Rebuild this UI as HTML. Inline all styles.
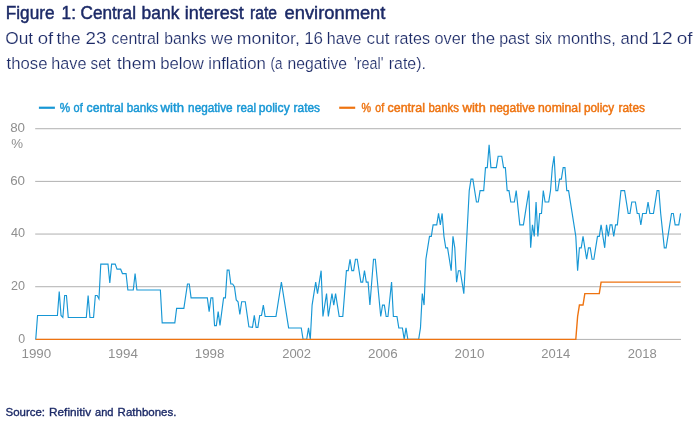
<!DOCTYPE html>
<html><head><meta charset="utf-8"><title>Figure 1</title>
<style>
html,body{margin:0;padding:0;background:#fff;}
svg{display:block;will-change:transform;opacity:0.999;font-family:"Liberation Sans",sans-serif;}
.navy{fill:#1f2d6a;}
.ax{fill:#8c8c8c;font-size:12.3px;}
</style></head><body>
<svg width="700" height="424" viewBox="0 0 700 424">
<rect width="700" height="424" fill="#fff"/>
<text y="18.70" font-size="17.6px" fill="#1c2a67" stroke="#1c2a67" stroke-width="0.45"><tspan x="5.74" textLength="48.81" lengthAdjust="spacingAndGlyphs">Figure</tspan> <tspan x="61.62" textLength="14.37" lengthAdjust="spacingAndGlyphs">1:</tspan> <tspan x="80.54" textLength="55.45" lengthAdjust="spacingAndGlyphs">Central</tspan> <tspan x="141.62" textLength="37.78" lengthAdjust="spacingAndGlyphs">bank</tspan> <tspan x="184.66" textLength="58.99" lengthAdjust="spacingAndGlyphs">interest</tspan> <tspan x="250.00" textLength="27.07" lengthAdjust="spacingAndGlyphs">rate</tspan> <tspan x="284.50" textLength="100.92" lengthAdjust="spacingAndGlyphs">environment</tspan></text>
<text y="43.70" font-size="17.4px" fill="#1c2a67" stroke="#fff" stroke-width="0.2"><tspan x="5.20" textLength="27.97" lengthAdjust="spacingAndGlyphs">Out</tspan> <tspan x="37.66" textLength="15.53" lengthAdjust="spacingAndGlyphs">of</tspan> <tspan x="56.58" textLength="23.91" lengthAdjust="spacingAndGlyphs">the</tspan> <tspan x="85.62" textLength="20.88" lengthAdjust="spacingAndGlyphs">23</tspan> <tspan x="111.58" textLength="47.84" lengthAdjust="spacingAndGlyphs">central</tspan> <tspan x="164.28" textLength="42.16" lengthAdjust="spacingAndGlyphs">banks</tspan> <tspan x="211.08" textLength="21.79" lengthAdjust="spacingAndGlyphs">we</tspan> <tspan x="236.78" textLength="63.09" lengthAdjust="spacingAndGlyphs">monitor,</tspan> <tspan x="304.20" textLength="18.85" lengthAdjust="spacingAndGlyphs">16</tspan> <tspan x="326.78" textLength="34.72" lengthAdjust="spacingAndGlyphs">have</tspan> <tspan x="366.62" textLength="22.88" lengthAdjust="spacingAndGlyphs">cut</tspan> <tspan x="394.20" textLength="35.79" lengthAdjust="spacingAndGlyphs">rates</tspan> <tspan x="434.54" textLength="31.59" lengthAdjust="spacingAndGlyphs">over</tspan> <tspan x="471.58" textLength="23.43" lengthAdjust="spacingAndGlyphs">the</tspan> <tspan x="499.20" textLength="30.37" lengthAdjust="spacingAndGlyphs">past</tspan> <tspan x="535.00" textLength="17.03" lengthAdjust="spacingAndGlyphs">six</tspan> <tspan x="557.16" textLength="58.74" lengthAdjust="spacingAndGlyphs">months,</tspan> <tspan x="620.50" textLength="27.81" lengthAdjust="spacingAndGlyphs">and</tspan> <tspan x="651.32" textLength="21.30" lengthAdjust="spacingAndGlyphs">12</tspan> <tspan x="676.70" textLength="15.91" lengthAdjust="spacingAndGlyphs">of</tspan></text>
<text y="68.70" font-size="17.4px" fill="#1c2a67" stroke="#fff" stroke-width="0.2"><tspan x="6.58" textLength="40.84" lengthAdjust="spacingAndGlyphs">those</tspan> <tspan x="51.32" textLength="35.13" lengthAdjust="spacingAndGlyphs">have</tspan> <tspan x="90.58" textLength="20.25" lengthAdjust="spacingAndGlyphs">set</tspan> <tspan x="116.96" textLength="39.35" lengthAdjust="spacingAndGlyphs">them</tspan> <tspan x="160.20" textLength="43.75" lengthAdjust="spacingAndGlyphs">below</tspan> <tspan x="208.20" textLength="57.69" lengthAdjust="spacingAndGlyphs">inflation</tspan> <tspan x="270.62" textLength="11.92" lengthAdjust="spacingAndGlyphs">(a</tspan> <tspan x="287.62" textLength="59.40" lengthAdjust="spacingAndGlyphs">negative</tspan> <tspan x="354.00" textLength="29.39" lengthAdjust="spacingAndGlyphs">&#39;real&#39;</tspan> <tspan x="388.74" textLength="37.23" lengthAdjust="spacingAndGlyphs">rate).</tspan></text>
<line x1="38.9" x2="54.9" y1="107.75" y2="107.75" stroke="#1797d5" stroke-width="2.2"/>
<text y="111.80" font-size="12.2px" fill="#1797d5" stroke="#1797d5" stroke-width="0.45"><tspan x="59.66" textLength="10.42" lengthAdjust="spacingAndGlyphs">%</tspan> <tspan x="73.58" textLength="9.12" lengthAdjust="spacingAndGlyphs">of</tspan> <tspan x="86.54" textLength="36.99" lengthAdjust="spacingAndGlyphs">central</tspan> <tspan x="126.74" textLength="31.24" lengthAdjust="spacingAndGlyphs">banks</tspan> <tspan x="160.61" textLength="23.39" lengthAdjust="spacingAndGlyphs">with</tspan> <tspan x="188.08" textLength="44.58" lengthAdjust="spacingAndGlyphs">negative</tspan> <tspan x="236.62" textLength="19.38" lengthAdjust="spacingAndGlyphs">real</tspan> <tspan x="258.70" textLength="31.02" lengthAdjust="spacingAndGlyphs">policy</tspan> <tspan x="293.62" textLength="26.44" lengthAdjust="spacingAndGlyphs">rates</tspan></text>
<line x1="339.2" x2="355.2" y1="107.75" y2="107.75" stroke="#ee7310" stroke-width="2.2"/>
<text y="111.80" font-size="12.2px" fill="#ee7310" stroke="#ee7310" stroke-width="0.45"><tspan x="361.42" textLength="9.57" lengthAdjust="spacingAndGlyphs">%</tspan> <tspan x="375.34" textLength="8.77" lengthAdjust="spacingAndGlyphs">of</tspan> <tspan x="387.50" textLength="37.41" lengthAdjust="spacingAndGlyphs">central</tspan> <tspan x="428.50" textLength="30.46" lengthAdjust="spacingAndGlyphs">banks</tspan> <tspan x="462.41" textLength="23.39" lengthAdjust="spacingAndGlyphs">with</tspan> <tspan x="489.46" textLength="45.40" lengthAdjust="spacingAndGlyphs">negative</tspan> <tspan x="538.08" textLength="42.78" lengthAdjust="spacingAndGlyphs">nominal</tspan> <tspan x="583.96" textLength="30.16" lengthAdjust="spacingAndGlyphs">policy</tspan> <tspan x="618.54" textLength="26.40" lengthAdjust="spacingAndGlyphs">rates</tspan></text>
<line x1="35.2" x2="681" y1="339.40" y2="339.40" stroke="#b0b0b0" stroke-width="1"/><line x1="35.2" x2="681" y1="286.73" y2="286.73" stroke="#b0b0b0" stroke-width="1"/><line x1="35.2" x2="681" y1="234.06" y2="234.06" stroke="#b0b0b0" stroke-width="1"/><line x1="35.2" x2="681" y1="181.39" y2="181.39" stroke="#b0b0b0" stroke-width="1"/><line x1="35.2" x2="681" y1="128.72" y2="128.72" stroke="#b0b0b0" stroke-width="1"/>
<text y="342.70" font-size="12.3px" fill="#8f8f8f"><tspan x="18.16" textLength="6.90" lengthAdjust="spacingAndGlyphs">0</tspan></text><text y="290.03" font-size="12.3px" fill="#8f8f8f"><tspan x="11.04" textLength="14.02" lengthAdjust="spacingAndGlyphs">20</tspan></text><text y="237.36" font-size="12.3px" fill="#8f8f8f"><tspan x="10.96" textLength="14.10" lengthAdjust="spacingAndGlyphs">40</tspan></text><text y="184.69" font-size="12.3px" fill="#8f8f8f"><tspan x="10.16" textLength="14.89" lengthAdjust="spacingAndGlyphs">60</tspan></text><text y="132.02" font-size="12.3px" fill="#8f8f8f"><tspan x="10.16" textLength="14.89" lengthAdjust="spacingAndGlyphs">80</tspan></text><text y="147.50" font-size="12.3px" fill="#8f8f8f"><tspan x="11.16" textLength="11.79" lengthAdjust="spacingAndGlyphs">%</tspan></text><text y="358.00" font-size="12.3px" fill="#8f8f8f"><tspan x="21.49" textLength="29.76" lengthAdjust="spacingAndGlyphs">1990</tspan></text><text y="358.00" font-size="12.3px" fill="#8f8f8f"><tspan x="108.12" textLength="29.76" lengthAdjust="spacingAndGlyphs">1994</tspan></text><text y="358.00" font-size="12.3px" fill="#8f8f8f"><tspan x="194.74" textLength="29.76" lengthAdjust="spacingAndGlyphs">1998</tspan></text><text y="358.00" font-size="12.3px" fill="#8f8f8f"><tspan x="282.17" textLength="28.94" lengthAdjust="spacingAndGlyphs">2002</tspan></text><text y="358.00" font-size="12.3px" fill="#8f8f8f"><tspan x="367.99" textLength="29.76" lengthAdjust="spacingAndGlyphs">2006</tspan></text><text y="358.00" font-size="12.3px" fill="#8f8f8f"><tspan x="454.62" textLength="29.76" lengthAdjust="spacingAndGlyphs">2010</tspan></text><text y="358.00" font-size="12.3px" fill="#8f8f8f"><tspan x="541.25" textLength="28.94" lengthAdjust="spacingAndGlyphs">2014</tspan></text><text y="358.00" font-size="12.3px" fill="#8f8f8f"><tspan x="627.87" textLength="28.97" lengthAdjust="spacingAndGlyphs">2018</tspan></text>
<polyline fill="none" stroke="#1797d5" stroke-width="1.15" stroke-linejoin="miter" points="35.75,339.40 37.56,315.46 57.42,315.46 59.23,291.53 61.04,315.46 62.84,317.46 64.65,295.50 66.46,295.50 68.26,317.46 86.32,317.46 88.13,295.50 89.94,317.46 93.55,317.46 95.35,295.50 97.16,295.50 98.97,298.90 100.77,264.16 108.00,264.16 109.80,282.96 111.61,264.16 115.22,264.16 117.03,269.17 120.64,269.17 122.45,273.56 126.06,273.56 127.87,290.03 133.28,290.03 135.09,273.56 136.90,290.03 160.38,290.03 162.18,322.93 174.83,322.93 176.63,308.43 183.86,308.43 187.47,283.97 189.28,283.97 191.08,297.81 207.34,297.81 209.15,311.67 210.95,297.81 212.76,297.81 214.56,325.55 216.37,325.55 218.18,311.67 219.98,325.55 223.59,297.81 225.40,297.81 227.21,270.08 229.01,270.08 230.82,283.97 232.63,283.97 234.43,286.73 236.24,299.90 238.04,301.76 239.85,314.32 241.66,301.76 245.27,301.76 248.88,326.86 252.49,327.42 254.30,315.46 256.11,327.42 257.91,327.42 259.72,315.46 261.52,315.46 263.33,305.06 265.14,316.49 275.97,316.49 281.39,282.15 288.62,327.95 301.26,327.95 303.07,339.40 306.68,339.40 308.49,327.95 310.29,339.40 312.10,305.06 315.71,282.15 317.52,293.60 321.13,270.69 322.94,316.49 326.55,293.60 328.35,316.49 331.97,293.60 333.77,305.06 335.58,293.60 339.19,316.49 342.80,316.49 346.42,270.69 348.22,270.69 350.03,259.26 351.83,270.69 353.64,270.69 355.45,259.26 357.25,259.26 360.87,282.15 362.67,282.15 364.48,270.69 366.28,282.15 368.09,282.15 369.90,305.06 373.51,259.26 375.32,259.26 380.73,316.49 382.54,305.06 384.35,305.06 386.15,316.49 387.96,316.49 391.57,282.15 393.38,316.49 396.99,316.49 398.80,327.95 402.41,327.95 404.21,339.40 406.02,327.95 407.83,339.40 418.66,339.40 420.47,327.95 422.28,293.60 424.08,305.05 425.89,259.25 429.50,236.35 431.31,236.35 433.11,224.90 436.73,224.90 438.53,213.45 440.34,224.90 442.14,213.45 443.95,236.35 445.76,247.80 447.56,247.80 451.18,270.70 452.98,236.35 454.79,247.80 456.59,282.15 458.40,270.70 460.21,270.70 463.82,293.60 469.24,190.55 471.04,179.10 472.85,179.10 476.46,202.00 478.27,202.00 480.08,190.55 483.69,190.55 485.49,167.65 487.30,167.65 489.11,144.75 490.91,167.65 496.33,167.65 498.14,156.20 501.75,156.20 503.56,167.65 505.36,167.65 507.17,190.55 508.97,190.55 510.78,202.00 514.39,202.00 516.20,190.55 519.81,224.90 523.42,224.90 528.84,190.55 530.65,247.80 532.45,224.90 534.26,236.35 536.07,202.00 537.87,236.35 539.68,213.45 541.49,213.45 543.29,190.55 545.10,202.00 548.71,202.00 550.52,190.55 552.32,167.65 554.13,156.20 555.94,190.55 557.74,190.55 559.55,179.10 561.35,179.10 563.16,167.65 564.97,167.65 566.77,190.55 568.58,190.55 575.80,236.35 577.61,270.70 579.42,247.80 581.22,247.80 583.03,236.35 586.64,259.25 588.45,247.80 590.25,247.80 592.06,259.25 593.87,259.25 597.48,236.35 599.28,236.35 601.09,224.90 602.90,236.35 604.70,247.80 606.51,224.90 608.32,236.35 610.12,224.90 611.93,224.90 613.73,236.35 615.54,224.90 617.35,224.90 620.96,190.55 624.57,190.55 628.18,213.45 629.99,213.45 631.80,202.00 635.41,202.00 637.21,213.45 639.02,213.45 640.83,224.90 642.63,213.45 646.25,213.45 648.05,202.00 649.86,213.45 653.47,213.45 657.08,190.55 658.89,190.55 660.70,213.45 664.31,247.80 666.11,247.80 669.73,224.90 671.53,213.45 673.34,213.45 675.14,224.90 678.76,224.90 680.56,213.45"/>
<polyline fill="none" stroke="#ee7310" stroke-width="1.4" stroke-linejoin="miter" points="35.75,339.40 575.80,339.40 577.61,316.50 579.42,305.05 583.03,305.05 584.83,293.60 599.28,293.60 601.09,282.15 680.56,282.15"/>
<text y="415.60" font-size="11.7px" fill="#1c2a67" stroke="#1c2a67" stroke-width="0.35"><tspan x="5.54" textLength="39.49" lengthAdjust="spacingAndGlyphs">Source:</tspan> <tspan x="49.00" textLength="42.07" lengthAdjust="spacingAndGlyphs">Refinitiv</tspan> <tspan x="95.00" textLength="18.46" lengthAdjust="spacingAndGlyphs">and</tspan> <tspan x="117.62" textLength="58.81" lengthAdjust="spacingAndGlyphs">Rathbones.</tspan></text>
</svg>
</body></html>
